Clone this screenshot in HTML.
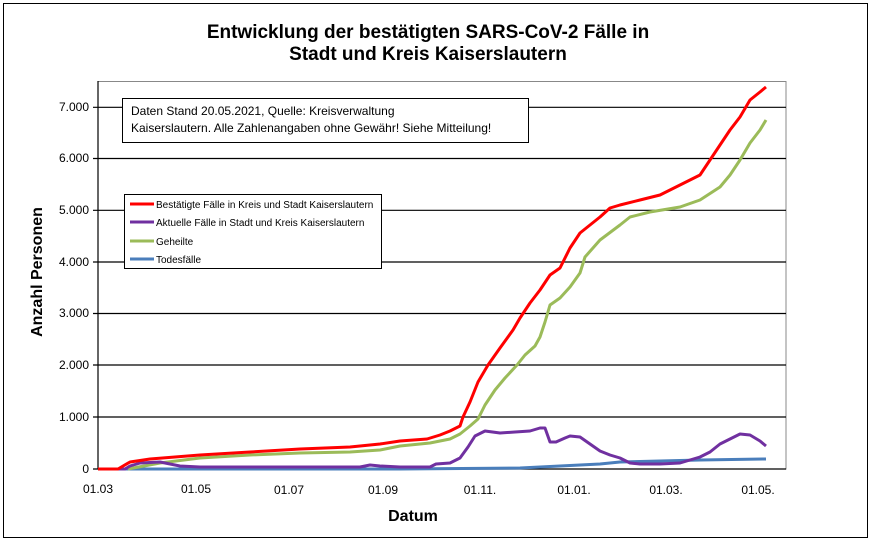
<!DOCTYPE html>
<html><head><meta charset="utf-8"><style>
body{margin:0;background:#fff;}
svg{display:block;font-family:"Liberation Sans",Arial,sans-serif;}
</style></head><body>
<svg width="875" height="541" viewBox="0 0 875 541" xmlns="http://www.w3.org/2000/svg">
<rect x="0" y="0" width="875" height="541" fill="#fff"/>
<rect x="3.5" y="3.5" width="864" height="534" fill="none" stroke="#000" stroke-width="1"/>
<text x="428" y="38" text-anchor="middle" font-size="19" font-weight="bold">Entwicklung der bestätigten SARS-CoV-2 Fälle in</text>
<text x="428" y="60" text-anchor="middle" font-size="19" font-weight="bold">Stadt und Kreis Kaiserslautern</text>
<rect x="98" y="81.5" width="688" height="387.5" fill="none" stroke="#888" stroke-width="1"/>
<g stroke="#000" stroke-width="1.2">
<line x1="93" y1="107.3" x2="786" y2="107.3"/>
<line x1="93" y1="158.5" x2="786" y2="158.5"/>
<line x1="93" y1="210.3" x2="786" y2="210.3"/>
<line x1="93" y1="262" x2="786" y2="262"/>
<line x1="93" y1="313.5" x2="786" y2="313.5"/>
<line x1="93" y1="365" x2="786" y2="365"/>
<line x1="93" y1="417" x2="786" y2="417"/>
<line x1="93" y1="469" x2="786" y2="469"/>
<line x1="98" y1="81" x2="98" y2="469"/>
</g>
<g font-size="12" text-anchor="end">
<text x="89" y="111">7.000</text>
<text x="89" y="162">6.000</text>
<text x="89" y="214">5.000</text>
<text x="89" y="266">4.000</text>
<text x="89" y="317">3.000</text>
<text x="89" y="369">2.000</text>
<text x="89" y="421">1.000</text>
<text x="89" y="473">0</text>
</g>
<g font-size="12" text-anchor="middle">
<text x="98" y="493">01.03</text>
<text x="196" y="493">01.05</text>
<text x="289" y="494">01.07</text>
<text x="383" y="494">01.09</text>
<text x="480" y="494">01.11.</text>
<text x="574" y="494">01.01.</text>
<text x="666" y="494">01.03.</text>
<text x="758" y="494">01.05.</text>
</g>
<text x="413" y="521" text-anchor="middle" font-size="16" font-weight="bold">Datum</text>
<text transform="translate(42,272) rotate(-90)" text-anchor="middle" font-size="16" font-weight="bold">Anzahl Personen</text>
<g fill="none" stroke-width="3" stroke-linejoin="round">
<polyline stroke="#4a7ebb" points="98,469 400,469 520,468 560,466 600,464 620,462 660,461 700,460 766,459"/>
<polyline stroke="#9bbb59" points="128,469 160,463 200,458 250,455 300,453 350,452 380,450 400,446 430,443 450,439 460,434 470,426 478,419 485,405 495,390 505,378 517,365 525,355 535,346 540,337 545,322 550,305 560,298 570,287 580,273 585,257 600,240 620,225 630,217 650,212 680,207 700,200 720,187 730,175 740,160 750,143 760,130 766,120"/>
<polyline stroke="#7030a0" points="98,469 125,469 130,466 140,463 160,462 170,464 180,466 200,467 300,467 360,467 370,465 380,466 400,467 430,467 436,464 450,463 460,458 468,447 475,436 485,431 500,433 515,432 530,431 540,428 545,428 550,442 556,442 565,438 570,436 580,437 590,444 600,451 610,455 620,458 630,463 640,464 660,464 680,463 690,460 700,457 710,452 720,444 730,439 740,434 750,435 760,441 766,446"/>
<polyline stroke="#ff0000" points="98,469 118,469 130,462 150,459 200,455 250,452 300,449 350,447 380,444 400,441 427,439 440,435 450,431 460,426 463,417 470,402 478,382 488,365 500,348 513,330 520,318 530,303 540,290 550,275 560,268 570,248 580,233 590,225 600,217 610,208 620,205 640,200 660,195 680,185 700,175 710,160 720,145 730,130 740,117 750,100 760,92 766,87"/>
</g>
<rect x="122.5" y="98.5" width="406" height="44" fill="#fff" stroke="#000" stroke-width="1"/>
<text x="131" y="115" font-size="12">Daten Stand 20.05.2021, Quelle: Kreisverwaltung</text>
<text x="131" y="132" font-size="12">Kaiserslautern. Alle Zahlenangaben ohne Gewähr! Siehe Mitteilung!</text>
<rect x="124.5" y="194.5" width="257" height="74" fill="#fff" stroke="#000" stroke-width="1"/>
<g stroke-width="3">
<line x1="130" y1="204" x2="154" y2="204" stroke="#ff0000"/>
<line x1="130" y1="222" x2="154" y2="222" stroke="#7030a0"/>
<line x1="130" y1="241" x2="154" y2="241" stroke="#9bbb59"/>
<line x1="130" y1="259" x2="154" y2="259" stroke="#4a7ebb"/>
</g>
<g font-size="10">
<text x="156" y="208">Bestätigte Fälle in Kreis und Stadt Kaiserslautern</text>
<text x="156" y="226">Aktuelle Fälle in Stadt und Kreis Kaiserslautern</text>
<text x="156" y="245">Geheilte</text>
<text x="156" y="263">Todesfälle</text>
</g>
</svg>
</body></html>
